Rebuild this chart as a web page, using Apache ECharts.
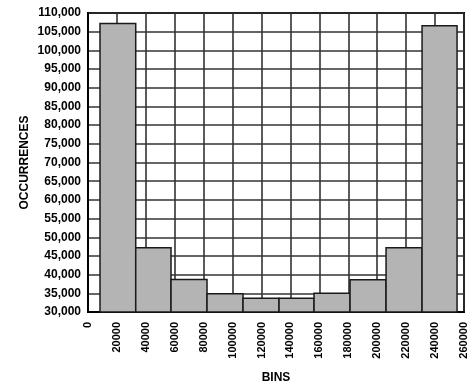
<!DOCTYPE html>
<html>
<head>
<meta charset="utf-8">
<script src="https://cdn.jsdelivr.net/npm/echarts@6/dist/echarts.min.js"></script>
<style>html,body{margin:0;padding:0;background:#fff;}#c{width:472px;height:390px;}</style>
</head>
<body>
<div id="c"></div>
<script>
// Bin edges (as drawn, in x-axis units) and counts per bar
var binStarts = [8300, 33000, 57400, 82300, 107200, 132100, 156300, 181200, 206100, 231000];
var binEnds   = [33000, 57400, 82300, 107200, 132100, 156300, 181200, 206100, 231000, 255200];
var counts    = [107200, 47200, 38700, 34900, 33700, 33700, 35000, 38600, 47200, 106600];
var xTicks = { min: 0, max: 260000, interval: 20000 };
var yTicks = { min: 30000, max: 110000, interval: 5000 };

var data = binStarts.map(function (s, i) { return [s, binEnds[i], counts[i]]; });
var font = '"Liberation Sans", Arial, sans-serif';

var chart = echarts.init(document.getElementById('c'), null, { renderer: 'canvas' });
chart.setOption({
  animation: false,
  backgroundColor: '#fff',
  grid: { left: 88, top: 13, right: 8, bottom: 78, show: true, borderColor: '#000', borderWidth: 2, backgroundColor: 'transparent' },
  xAxis: {
    type: 'value', min: xTicks.min, max: xTicks.max, interval: xTicks.interval,
    name: 'BINS', nameLocation: 'middle', nameGap: 60, nameMoveOverlap: false,
    nameTextStyle: { fontFamily: font, fontWeight: 'bold', fontSize: 12, color: '#000' },
    axisLine: { show: true, lineStyle: { color: '#000', width: 2 } },
    axisTick: { show: false },
    axisLabel: { rotate: 90, fontFamily: font, fontWeight: 'bold', fontSize: 11, color: '#000', margin: 10,
      formatter: function (v) { return String(v); } },
    splitLine: { show: true, lineStyle: { color: '#333', width: 1.6 } }
  },
  yAxis: {
    type: 'value', min: yTicks.min, max: yTicks.max, interval: yTicks.interval,
    name: 'OCCURRENCES', nameLocation: 'middle', nameGap: 57, nameMoveOverlap: false,
    nameTextStyle: { fontFamily: font, fontWeight: 'bold', fontSize: 12, color: '#000' },
    axisLine: { show: true, lineStyle: { color: '#000', width: 2 } },
    axisTick: { show: false },
    axisLabel: { fontFamily: font, fontWeight: 'bold', fontSize: 12, color: '#000', margin: 7,
      formatter: function (v) { return v.toString().replace(/\B(?=(\d{3})+(?!\d))/g, ','); } },
    splitLine: { show: true, lineStyle: { color: '#333', width: 1.6 } }
  },
  series: [{
    type: 'custom',
    data: data,
    encode: { x: [0, 1], y: 2 },
    renderItem: function (params, api) {
      var p0 = api.coord([api.value(0), api.value(2)]);
      var p1 = api.coord([api.value(1), yTicks.min]);
      return {
        type: 'rect',
        shape: { x: p0[0], y: p0[1], width: p1[0] - p0[0], height: p1[1] - p0[1] },
        style: { fill: '#b4b4b4', stroke: '#1a1a1a', lineWidth: 1.5 }
      };
    }
  }]
});
</script>
</body>
</html>
